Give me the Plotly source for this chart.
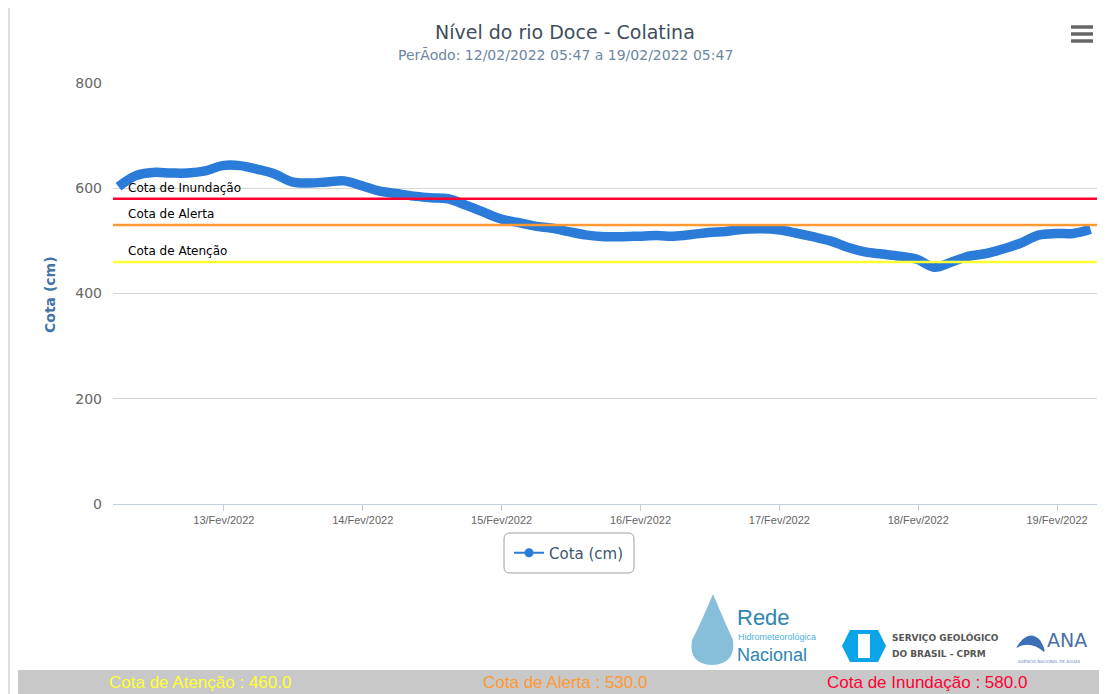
import plotly.graph_objects as go
import pandas as pd

# ---------------- data ----------------
start_time = "2022-02-12 05:47"
step_hours = 3
cota_cm = [603, 624, 630, 629, 629, 633, 643, 643, 636, 627,
           612, 610, 612, 614, 605, 595, 590, 585, 582, 580,
           568, 555, 542, 535, 528, 524, 517, 511, 508, 508,
           509, 510, 509, 512, 516, 518, 522, 523, 521, 515,
           508, 500, 488, 479, 475, 471, 465, 450, 460, 471,
           476, 485, 496, 511, 514, 514, 522]
times = pd.date_range(start_time, periods=len(cota_cm), freq=f"{step_hours}h")

threshold_names = ["Cota de Atenção", "Cota de Alerta", "Cota de Inundação"]
threshold_values = [460.0, 530.0, 580.0]
threshold_colors = ["#FFFF33", "#FF9933", "#FF0033"]

tick_dates = pd.date_range("2022-02-13", "2022-02-19", freq="D")
month_pt = {2: "Fev"}
tick_labels = [f"{d.day:02d}/{month_pt[d.month]}/{d.year}" for d in tick_dates]

y_ticks = [0, 200, 400, 600, 800]

title_text = "Nível do rio Doce - Colatina"
subtitle_text = "PerÃodo: 12/02/2022 05:47 a 19/02/2022 05:47"

# ---------------- layout geometry ----------------
# the page body has an 8px margin, so the figure is placed at (8, 8) of the window
OFF = 8
W, H = 1107 - OFF, 694 - OFF
L, R, T, B = 113 - OFF, 10, 83 - OFF, 190
PW, PH = W - L - R, H - T - B


def px(x):
    """screen x pixel -> paper x"""
    return (x - OFF - L) / PW


def py(y):
    """screen y pixel -> paper y"""
    return (H - B - (y - OFF)) / PH


fig = go.Figure()

fig.add_trace(go.Scatter(
    x=times, y=cota_cm, mode="lines", name="Cota (cm)",
    line=dict(color="#2B7CD8", width=9.5, shape="spline"),
    showlegend=False, hoverinfo="x+y"))

fig.add_trace(go.Scatter(
    x=[None], y=[None], mode="lines+markers", name="Cota (cm)",
    line=dict(color="#2B7CD8", width=2),
    marker=dict(color="#2B7CD8", size=9), showlegend=True))

shapes = []
annotations = []

# threshold lines + labels
for name, val, col in zip(threshold_names, threshold_values, threshold_colors):
    shapes.append(dict(type="line", xref="paper", yref="y", x0=0, x1=1, y0=val, y1=val,
                       line=dict(color=col, width=2.5), layer="above"))
    annotations.append(dict(xref="paper", yref="y", x=px(126), y=val, yshift=11,
                            text=name, showarrow=False, xanchor="left", yanchor="middle",
                            font=dict(family="DejaVu Sans", size=12, color="#000000")))

# titles
annotations.append(dict(xref="paper", yref="paper", x=px(565), y=py(32), text=title_text,
                        showarrow=False, xanchor="center", yanchor="middle",
                        font=dict(family="DejaVu Sans", size=19, color="#3E4D5C")))
annotations.append(dict(xref="paper", yref="paper", x=px(565), y=py(55), text=subtitle_text,
                        showarrow=False, xanchor="center", yanchor="middle",
                        font=dict(family="DejaVu Sans", size=14, color="#6D869F")))
# y-axis title
annotations.append(dict(xref="paper", yref="paper", x=px(50), y=py(295), text="<b>Cota (cm)</b>",
                        showarrow=False, textangle=-90, xanchor="center", yanchor="middle",
                        font=dict(family="DejaVu Sans", size=14, color="#4572A7")))

# hamburger menu
for yy in (27, 34, 41):
    shapes.append(dict(type="line", xref="paper", yref="paper", x0=px(1071), x1=px(1093),
                       y0=py(yy), y1=py(yy), line=dict(color="#666666", width=3.5)))

# left page border
shapes.append(dict(type="line", xref="paper", yref="paper", x0=px(9), x1=px(9),
                   y0=py(0), y1=py(694), line=dict(color="#DDDDDD", width=2)))

# legend rounded box
x0, x1, y0, y1, r = px(504), px(634), py(573), py(533), 6
rx, ry = r / PW, r / PH
path = (f"M {x0+rx},{y0} L {x1-rx},{y0} Q {x1},{y0} {x1},{y0+ry} L {x1},{y1-ry} "
        f"Q {x1},{y1} {x1-rx},{y1} L {x0+rx},{y1} Q {x0},{y1} {x0},{y1-ry} "
        f"L {x0},{y0+ry} Q {x0},{y0} {x0+rx},{y0} Z")
shapes.append(dict(type="path", xref="paper", yref="paper", path=path,
                   line=dict(color="#A0A0A0", width=1)))

# bottom grey bar
shapes.append(dict(type="rect", xref="paper", yref="paper", x0=px(18), x1=px(1107),
                   y0=py(694), y1=py(670), fillcolor="#C8C8C8", line=dict(width=0), layer="below"))
bar_centers = [200, 565, 927]
for name, val, col, cx in zip(threshold_names, threshold_values, threshold_colors, bar_centers):
    annotations.append(dict(xref="paper", yref="paper", x=px(cx), y=py(683),
                            text=f"{name} : {val:.1f}", showarrow=False,
                            xanchor="center", yanchor="middle",
                            font=dict(family="Liberation Sans Narrow, Arial Narrow, sans-serif",
                                      size=17, color=col)))

# logos (approximated with shapes and text)
shapes.append(dict(type="path", xref="paper", yref="paper",
                   path=(f"M {px(713)},{py(594)} Q {px(700)},{py(625)} {px(692)},{py(640)} "
                         f"Q {px(688)},{py(664)} {px(712)},{py(665)} Q {px(736)},{py(664)} {px(733)},{py(640)} "
                         f"Q {px(726)},{py(625)} {px(713)},{py(594)} Z"),
                   fillcolor="#5FA8CC", line=dict(width=0), opacity=0.75))
annotations.append(dict(xref="paper", yref="paper", x=px(735), y=py(617), text="Rede",
                        showarrow=False, xanchor="left", yanchor="middle",
                        font=dict(family="Liberation Sans Narrow, sans-serif", size=22, color="#2E86B3")))
annotations.append(dict(xref="paper", yref="paper", x=px(736), y=py(637), text="Hidrometeorológica",
                        showarrow=False, xanchor="left", yanchor="middle",
                        font=dict(family="Liberation Sans Narrow, sans-serif", size=9, color="#4FB0E0")))
annotations.append(dict(xref="paper", yref="paper", x=px(735), y=py(655), text="Nacional",
                        showarrow=False, xanchor="left", yanchor="middle",
                        font=dict(family="Liberation Sans Narrow, sans-serif", size=18, color="#2E86B3")))
shapes.append(dict(type="path", xref="paper", yref="paper",
                   path=(f"M {px(850)},{py(630)} L {px(878)},{py(630)} L {px(886)},{py(646)} "
                         f"L {px(878)},{py(662)} L {px(850)},{py(662)} L {px(842)},{py(646)} Z"),
                   fillcolor="#0BA4E8", line=dict(width=0)))
shapes.append(dict(type="rect", xref="paper", yref="paper", x0=px(858), x1=px(870),
                   y0=py(658), y1=py(634), fillcolor="#FFFFFF", line=dict(width=0)))
annotations.append(dict(xref="paper", yref="paper", x=px(890), y=py(637), text="<b>SERVIÇO GEOLÓGICO</b>",
                        showarrow=False, xanchor="left", yanchor="middle",
                        font=dict(family="DejaVu Sans", size=9, color="#555555")))
annotations.append(dict(xref="paper", yref="paper", x=px(890), y=py(654), text="<b>DO BRASIL - CPRM</b>",
                        showarrow=False, xanchor="left", yanchor="middle",
                        font=dict(family="DejaVu Sans", size=9, color="#555555")))
shapes.append(dict(type="path", xref="paper", yref="paper",
                   path=(f"M {px(1016)},{py(648)} Q {px(1028)},{py(628)} {px(1040)},{py(640)} "
                         f"Q {px(1046)},{py(650)} {px(1044)},{py(652)} Q {px(1030)},{py(640)} {px(1016)},{py(648)} Z"),
                   fillcolor="#3D6FB6", line=dict(width=0)))
annotations.append(dict(xref="paper", yref="paper", x=px(1045), y=py(640), text="ANA",
                        showarrow=False, xanchor="left", yanchor="middle",
                        font=dict(family="DejaVu Sans", size=19, color="#4A6FA8")))
annotations.append(dict(xref="paper", yref="paper", x=px(1016), y=py(661), text="AGÊNCIA NACIONAL DE ÁGUAS",
                        showarrow=False, xanchor="left", yanchor="middle",
                        font=dict(family="DejaVu Sans", size=4, color="#6A8AB8")))

fig.update_layout(
    width=W, height=H,
    margin=dict(l=L, r=R, t=T, b=B, autoexpand=False),
    paper_bgcolor="#FFFFFF", plot_bgcolor="#FFFFFF",
    showlegend=True,
    legend=dict(x=px(569), y=py(553), xanchor="center", yanchor="middle",
                bgcolor="rgba(0,0,0,0)", borderwidth=0,
                font=dict(family="DejaVu Sans", size=15, color="#3E576F")),
    shapes=shapes, annotations=annotations,
    xaxis=dict(range=[pd.Timestamp("2022-02-12 04:50"), pd.Timestamp("2022-02-19 06:54")],
               tickvals=tick_dates, ticktext=tick_labels,
               showgrid=False, zeroline=False, showline=True, linecolor="#C0D0E0", linewidth=1,
               ticks="outside", ticklen=6, tickcolor="#C0D0E0",
               tickfont=dict(family="Liberation Sans, Arial, sans-serif", size=11, color="#666666")),
    yaxis=dict(range=[0, 800], tickvals=y_ticks, showgrid=True, gridcolor="#D8D8D8", gridwidth=1,
               zeroline=False, showline=False, ticks="", ticklabelstandoff=10,
               tickfont=dict(family="DejaVu Sans", size=14, color="#666666")),
)

fig.write_html("out.html")
